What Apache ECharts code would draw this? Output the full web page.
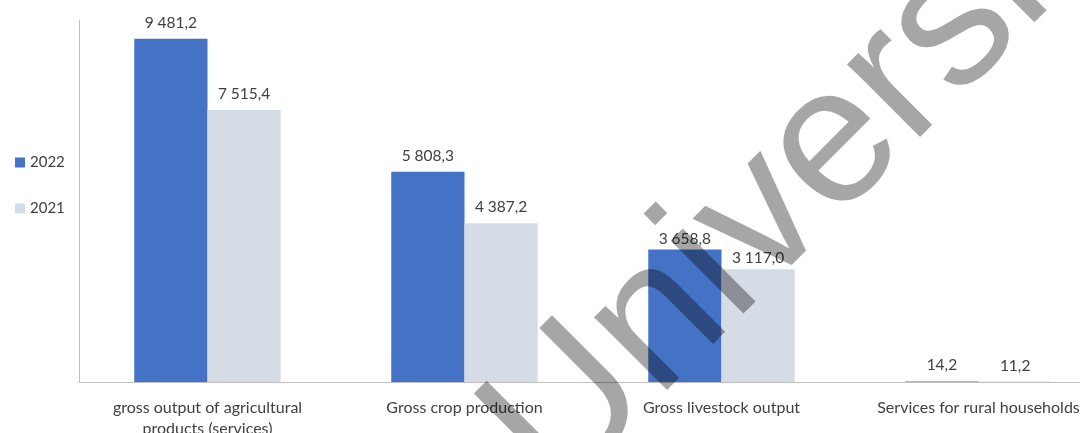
<!DOCTYPE html>
<html>
<head>
<meta charset="utf-8">
<script src="https://cdn.jsdelivr.net/npm/echarts@6/dist/echarts.min.js"></script>
<style>html,body{margin:0;padding:0;background:#fff}#c{width:1080px;height:433px}</style>
</head>
<body>
<div id="c"></div>
<script>
const categories = ["gross output of agricultural\nproducts (services)", "Gross crop production", "Gross livestock output", "Services for rural households"];
const seriesNames = ["2022", "2021"];
const values2022 = [9481.2, 5808.3, 3658.8, 14.2];
const values2021 = [7515.4, 4387.2, 3117.0, 11.2];
const watermarkText = "University";

function fmt(v) {
  const parts = v.toFixed(1).split(".");
  const intPart = parts[0].replace(/\B(?=(\d{3})+(?!\d))/g, " ");
  return intPart + "," + parts[1];
}
const FONT = "Lato";
const labelDist = [8, 8, 3, 8];

const chart = echarts.init(document.getElementById("c"), null, {renderer: "canvas"});
chart.setOption({
  animation: false,
  textStyle: {fontFamily: FONT},
  legend: {
    orient: "vertical",
    left: 10,
    top: 150,
    itemGap: 31,
    itemWidth: 10,
    itemHeight: 10,
    icon: "rect",
    textStyle: {color: "#404040", fontSize: 15, fontFamily: FONT},
    data: seriesNames
  },
  grid: {left: 79, width: 1028, top: 20, height: 362, outerBoundsMode: "none", containLabel: false},
  xAxis: {
    type: "category",
    data: categories,
    axisLine: {lineStyle: {color: "#BFBFBF", width: 1}},
    axisTick: {show: false},
    axisLabel: {color: "#404040", fontSize: 16, fontFamily: FONT, margin: 15, lineHeight: 21, interval: 0}
  },
  yAxis: {
    type: "value",
    min: 0,
    max: 10000,
    interval: 2000,
    axisLine: {show: true, lineStyle: {color: "#BFBFBF", width: 1}},
    axisTick: {show: false},
    axisLabel: {show: false},
    splitLine: {show: false}
  },
  series: [
    {
      name: seriesNames[0],
      type: "bar",
      barGap: "0%",
      barCategoryGap: "43%",
      itemStyle: {color: "#4472C4"},
      data: values2022.map((v, i) => ({value: v, label: {distance: labelDist[i]}})),
      label: {show: true, position: "top", color: "#404040", fontSize: 15.5, fontFamily: FONT, formatter: p => fmt(p.value)}
    },
    {
      name: seriesNames[1],
      type: "bar",
      itemStyle: {color: "#D6DCE5"},
      data: values2021.map((v, i) => ({value: v, label: {distance: labelDist[i]}})),
      label: {show: true, position: "top", color: "#404040", fontSize: 15.5, fontFamily: FONT, formatter: p => fmt(p.value)}
    }
  ],
  graphic: [{
    type: "text",
    x: 451,
    y: 392,
    rotation: Math.PI / 4,
    z: 100,
    silent: true,
    style: {
      text: watermarkText,
      fontFamily: "Liberation Sans",
      fontSize: 195,
      fill: "rgba(0,0,0,0.35)",
      textAlign: "left",
      textVerticalAlign: "top"
    }
  }]
});
</script>
</body>
</html>
